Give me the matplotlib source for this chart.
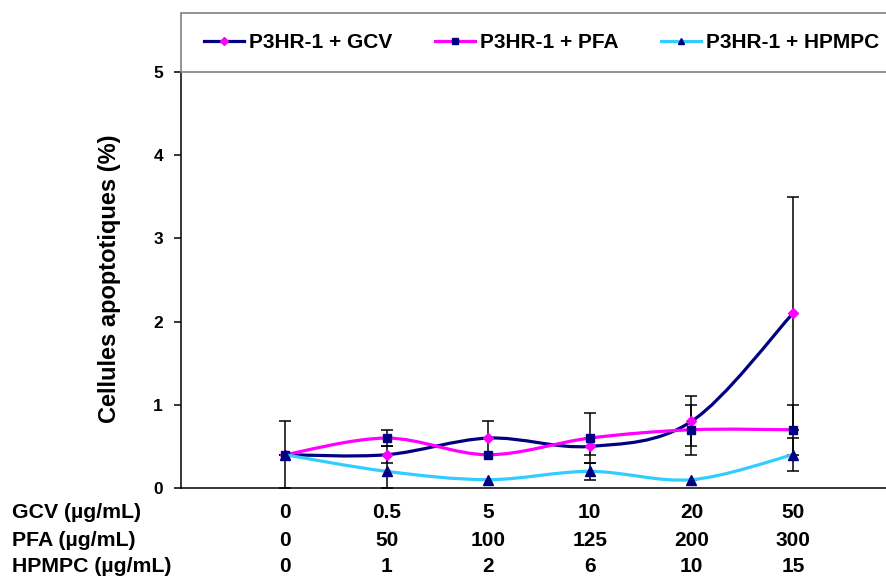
import numpy as np
import matplotlib.pyplot as plt
from matplotlib.path import Path
from matplotlib.patches import PathPatch, Rectangle
from matplotlib.lines import Line2D
import matplotlib.transforms as mtransforms

plt.rcParams['font.family'] = ['Liberation Sans', 'DejaVu Sans']
plt.rcParams['font.weight'] = 'bold'

### data
gcv_doses = ['0', '0.5', '5', '10', '20', '50']
pfa_doses = ['0', '50', '100', '125', '200', '300']
hpmpc_doses = ['0', '1', '2', '6', '10', '15']
row_labels = ['GCV (µg/mL)', 'PFA (µg/mL)', 'HPMPC (µg/mL)']

gcv_vals = [0.4, 0.4, 0.6, 0.5, 0.8, 2.1]
gcv_err = [0.4, 0.1, 0.2, 0.1, 0.3, 1.4]
pfa_vals = [0.4, 0.6, 0.4, 0.6, 0.7, 0.7]
pfa_err = [0.0, 0.1, 0.0, 0.3, 0.3, 0.3]
hpmpc_vals = [0.4, 0.2, 0.1, 0.2, 0.1, 0.4]
hpmpc_err = [0.0, 0.2, 0.0, 0.1, 0.0, 0.2]

series_names = ['P3HR-1 + GCV', 'P3HR-1 + PFA', 'P3HR-1 + HPMPC']
line_colors = ['#000080', '#FF00FF', '#33CCFF']
marker_colors = ['#FF00FF', '#000080', '#000080']
markers = ['D', 's', '^']
marker_sizes = [5.5, 6, 6.5]


def smooth_path(x, y):
	""" Excel-like smoothed line: bezier segments through every point """
	x = np.asarray(x, float)
	y = np.asarray(y, float)
	n = len(x)
	verts = [(x[0], y[0])]
	codes = [Path.MOVETO]
	for i in range(n-1):
		i0 = max(i-1, 0)
		i3 = min(i+2, n-1)
		c1 = (x[i] + (x[i+1]-x[i0])/6, y[i] + (y[i+1]-y[i0])/6)
		c2 = (x[i+1] - (x[i3]-x[i])/6, y[i+1] - (y[i3]-y[i])/6)
		verts += [c1, c2, (x[i+1], y[i+1])]
		codes += [Path.CURVE4]*3
	return Path(verts, codes)


W, H = 886, 578
fig = plt.figure(figsize=(W/100, H/100), dpi=100)
ax_left, ax_bottom, ax_top = 181, 488, 13
ax = fig.add_axes([ax_left/W, (H-ax_bottom)/H, 1 - ax_left/W, (ax_bottom-ax_top)/H])

step = 101.6
xpos = np.arange(len(gcv_doses))
ymax = 5*(ax_bottom-ax_top)/(ax_bottom-72)
ax.set_xlim(-(285-ax_left)/step, (W-285)/step)
ax.set_ylim(0, ymax)

all_vals = [gcv_vals, pfa_vals, hpmpc_vals]
all_err = [gcv_err, pfa_err, hpmpc_err]

for k in range(3):
	ax.errorbar(xpos, all_vals[k], yerr=all_err[k], fmt='none', ecolor='black',
		elinewidth=1.1, capsize=4.5, capthick=1.1, zorder=2)

for k in range(3):
	patch = PathPatch(smooth_path(xpos, all_vals[k]), facecolor='none',
		edgecolor=line_colors[k], lw=2.3, zorder=3+k, capstyle='round')
	ax.add_patch(patch)
	ax.plot(xpos, all_vals[k], linestyle='none', marker=markers[k], ms=marker_sizes[k],
		mfc=marker_colors[k], mec=marker_colors[k], zorder=3.5+k)

# axes styling
ax.spines['top'].set_visible(False)
ax.spines['right'].set_visible(False)
ax.spines['left'].set_bounds(0, 5)
ax.spines['left'].set_linewidth(1.1)
ax.spines['bottom'].set_linewidth(1.1)
ax.set_yticks(range(6))
ax.set_yticklabels([str(v) for v in range(6)], fontsize=12.5, fontweight='bold')
ax.tick_params(axis='y', direction='out', length=5, width=1.1, pad=8)
ax.set_xticks([])

# legend box (runs off the right edge like the original)
ax.add_patch(Rectangle((0, 5/ymax), 1.05, 1-5/ymax, transform=ax.transAxes,
	facecolor='white', edgecolor='#808080', lw=1.2, clip_on=False, zorder=10))
handles = [Line2D([], [], color=line_colors[k], lw=2.3, marker=markers[k],
	ms=marker_sizes[k]-1.5, mfc=marker_colors[k], mec=marker_colors[k]) for k in range(3)]
fig.legend(handles, series_names, loc='center left', bbox_to_anchor=(194/W, 1-43/H),
	ncol=3, frameon=False, borderpad=0, handlelength=1.9, handletextpad=0.25,
	columnspacing=2.05, prop={'size': 15, 'weight': 'bold'}).set_zorder(11)

# y label
fig.text(110/W, 1-279/H, 'Cellules apoptotiques (%)', rotation=90, ha='center', va='center',
	fontsize=17, fontweight='bold')

# data table under the axis
row_y = [512, 540, 567]
trans = mtransforms.blended_transform_factory(ax.transData, fig.transFigure)
for r, doses in enumerate([gcv_doses, pfa_doses, hpmpc_doses]):
	fig.text(12/W, 1-row_y[r]/H, row_labels[r], ha='left', va='center', fontsize=15.3, fontweight='bold')
	for i, d in enumerate(doses):
		ax.text(xpos[i], 1-row_y[r]/H, d, transform=trans, ha='center', va='center',
			fontsize=15, fontweight='bold', clip_on=False)

fig.savefig('out.png', dpi=100)
